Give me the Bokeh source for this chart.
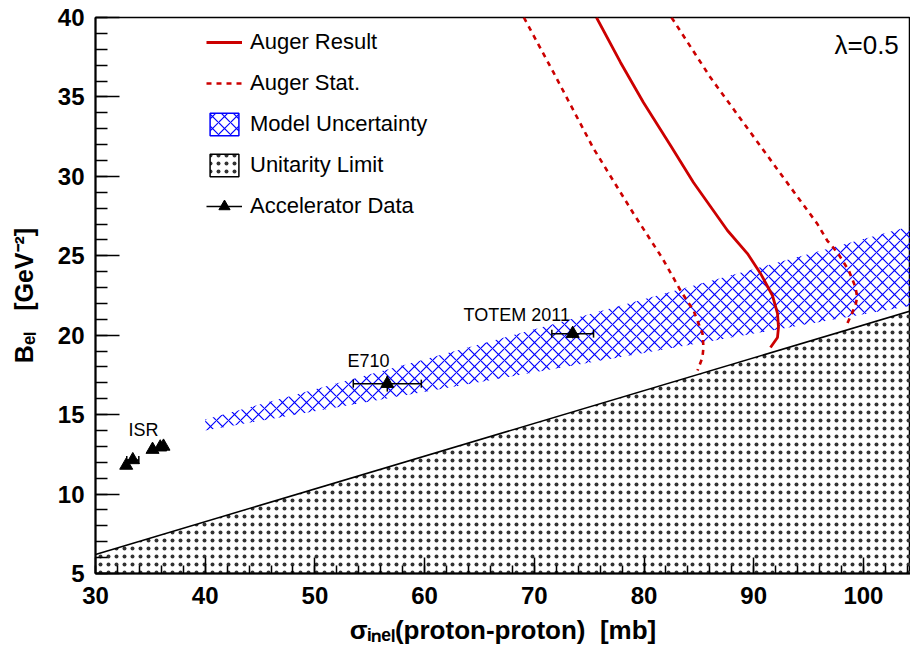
import numpy as np
from bokeh.plotting import figure
from bokeh.models import Range1d, Legend, LegendItem, FixedTicker
from bokeh.embed import file_html
from bokeh.resources import INLINE
from bokeh.core.properties import value

# ---------------- data ----------------
auger_sigma = [75.67, 77.86, 79.95, 82.42, 84.51, 86.06, 87.61, 89.43, 90.62, 91.71, 92.17, 92.26, 92.17, 91.53]
auger_B     = [40.00, 37.17, 34.65, 31.94, 29.61, 28.10, 26.59, 25.14, 23.89, 22.50, 21.37, 20.49, 19.86, 19.23]

stat_lo_sigma = [69.05, 69.29, 71.75, 75.40, 79.04, 81.69, 83.33, 84.51, 85.33, 85.42, 85.33, 84.88]
stat_lo_B     = [40.00, 39.69, 36.54, 31.75, 27.66, 24.83, 22.81, 21.56, 20.11, 19.23, 18.60, 17.78]

stat_hi_sigma = [82.51, 82.69, 86.06, 92.90, 94.57, 95.79, 96.70, 97.61, 98.67, 99.28, 99.43, 99.28, 98.52]
stat_hi_B     = [40.00, 39.81, 36.22, 29.74, 28.17, 27.02, 25.96, 25.23, 24.07, 23.02, 22.39, 21.87, 20.72]

model_sigma  = [40.0, 105.0]
model_B_low  = [14.0, 21.93]
model_B_high = [14.7, 27.0]

unit_sigma = [30.0, 105.0]
unit_B     = [6.2, 21.67]
unit_floor = [5.0, 5.0]

acc_sigma    = [32.8, 33.4, 35.2, 35.9, 36.2, 56.6, 73.5]
acc_B        = [11.8, 12.15, 12.8, 12.95, 13.0, 16.95, 20.1]
acc_sigma_lo = [32.8, 32.85, 35.2, 35.9, 36.2, 53.5, 71.6]
acc_sigma_hi = [32.8, 33.95, 35.2, 35.9, 36.2, 59.7, 75.4]
acc_B_err    = [0.2, 0.2, 0.15, 0.15, 0.15, 0.5, 0.3]

exp_names   = ["ISR", "E710", "TOTEM 2011"]
exp_label_x = [33.0, 52.97, 63.55]
exp_label_y = [14.05, 18.40, 21.30]

x_ticks = [30, 40, 50, 60, 70, 80, 90, 100]
y_ticks = [5, 10, 15, 20, 25, 30, 35, 40]
x_minor = list(range(30, 106, 2))
y_minor = list(range(5, 41, 1))

x_title = "σᵢₙₑₗ(proton-proton)\u00a0 [mb]"
y_title = "Bₑₗ\u00a0 \u00a0[GeV⁻²]"
lambda_text = "λ=0.5"

# ---------------- layout (pixels) ----------------
W, H = 910, 647
FL, FT, FR = 95, 17, 0
FB = H - 573
FW, FH = W - FL - FR, H - FT - FB
X0, X1 = 30.0, 30.0 + FW / 10.97
Y0, Y1 = 5.0, 40.0

def dx(px):  # page pixel -> data x
    return X0 + (px - FL) * (X1 - X0) / FW

def dy(py):  # page pixel -> data y
    return Y1 - (py - FT) * (Y1 - Y0) / FH

RED = "#cc0000"
BLUE = "#0000ff"
FONT = "Liberation Sans"

p = figure(width=W, height=H, x_range=Range1d(X0, X1), y_range=Range1d(Y0, Y1),
           output_backend="svg", toolbar_location=None, title=None,
           min_border_left=FL, min_border_right=FR, min_border_top=FT, min_border_bottom=FB)
p.xgrid.visible = False
p.ygrid.visible = False
p.outline_line_color = "black"
p.outline_line_width = 1.5
p.background_fill_color = "white"
p.border_fill_color = "white"

# unitarity limit (dotted area)
p.varea(x=unit_sigma, y1=unit_floor, y2=unit_B, fill_alpha=0,
        hatch_pattern="dot", hatch_color="#333333", hatch_scale=8, hatch_weight=1.3)
p.line(unit_sigma, unit_B, line_color="black", line_width=1.5)

# model uncertainty (blue cross-hatch)
p.varea(x=model_sigma, y1=model_B_low, y2=model_B_high, fill_alpha=0,
        hatch_pattern="diagonal_cross", hatch_color=BLUE, hatch_scale=12, hatch_weight=1.2)

# legend proxies for the boxed entries (nothing drawn in the plot)
model_proxy = p.patch(x=[np.nan], y=[np.nan], fill_alpha=0, hatch_pattern="diagonal_cross",
                      hatch_color=BLUE, hatch_scale=12, hatch_weight=1.2, line_color=BLUE, line_width=1.5)
unit_proxy = p.patch(x=[np.nan], y=[np.nan], fill_alpha=0, hatch_pattern="dot", hatch_color="#333333",
                     hatch_scale=8, hatch_weight=1.3, line_color="black", line_width=1.5)

# Auger curves
auger = p.line(auger_sigma, auger_B, line_color=RED, line_width=2.8)
stat1 = p.line(stat_lo_sigma, stat_lo_B, line_color=RED, line_width=2.6, line_dash="5 5")
p.line(stat_hi_sigma, stat_hi_B, line_color=RED, line_width=2.6, line_dash="5 5")

# accelerator data
xerr = p.segment(x0=acc_sigma_lo, y0=acc_B, x1=acc_sigma_hi, y1=acc_B, line_color="black", line_width=1.5)
p.segment(x0=acc_sigma, y0=[b - e for b, e in zip(acc_B, acc_B_err)],
          x1=acc_sigma, y1=[b + e for b, e in zip(acc_B, acc_B_err)], line_color="black", line_width=1.5)
cap_x = [v for lo, hi in zip(acc_sigma_lo, acc_sigma_hi) if hi > lo for v in (lo, hi)]
cap_y = [b for lo, hi, b in zip(acc_sigma_lo, acc_sigma_hi, acc_B) if hi > lo for _ in (0, 1)]
p.scatter(cap_x, cap_y, marker="dash", angle=np.pi / 2, size=8, line_color="black", line_width=1.5)
tri = p.scatter(acc_sigma, acc_B, marker="triangle", size=13, fill_color="black", line_color="black")

p.text(x=exp_label_x, y=exp_label_y, text=exp_names, text_font=value(FONT), text_font_size="18px",
       text_color="black", text_baseline="alphabetic", text_align="left")

p.text(x=[dx(834)], y=[dy(44)], text=[lambda_text], text_font=value(FONT), text_font_size="26px",
       text_color="black", text_baseline="alphabetic", text_align="left")

# axes
p.xaxis.ticker = FixedTicker(ticks=x_ticks, minor_ticks=x_minor)
p.yaxis.ticker = FixedTicker(ticks=y_ticks, minor_ticks=y_minor)
for ax in (p.xaxis, p.yaxis):
    ax.major_tick_out = 0
    ax.minor_tick_out = 0
    ax.axis_line_width = 2
    ax.axis_line_color = "black"
    ax.major_tick_line_color = "black"
    ax.minor_tick_line_color = "black"
    ax.major_tick_line_width = 1.5
    ax.minor_tick_line_width = 1.5
    ax.major_label_text_font = FONT
    ax.major_label_text_font_style = "bold"
    ax.major_label_text_font_size = "24px"
    ax.major_label_text_color = "black"
    ax.axis_label_text_font = FONT
    ax.axis_label_text_font_style = "bold"
    ax.axis_label_text_color = "black"
p.xaxis.axis_label_text_font_size = "26px"
p.yaxis.axis_label_text_font_size = "25px"
p.xaxis.major_tick_in = 16
p.xaxis.minor_tick_in = 8
p.yaxis.major_tick_in = 24
p.yaxis.minor_tick_in = 12
p.xaxis.major_label_standoff = 13
p.yaxis.major_label_standoff = 11
p.xaxis.axis_label = x_title
p.yaxis.axis_label = y_title
p.xaxis.axis_label_standoff = 8
p.yaxis.axis_label_standoff = 17

# legend
legend = Legend(items=[
    LegendItem(label="Auger Result", renderers=[auger]),
    LegendItem(label="Auger Stat.", renderers=[stat1]),
    LegendItem(label="Model Uncertainty", renderers=[model_proxy]),
    LegendItem(label="Unitarity Limit", renderers=[unit_proxy]),
    LegendItem(label="Accelerator Data", renderers=[xerr, tri]),
], location=(111, 353), glyph_width=36, glyph_height=28, spacing=13, padding=0, margin=0,
    label_standoff=8, label_text_font=FONT, label_text_font_size="22px", label_text_color="black",
    border_line_alpha=0, background_fill_alpha=0)
p.add_layout(legend)

open("out.html", "w").write(file_html(p, INLINE))
